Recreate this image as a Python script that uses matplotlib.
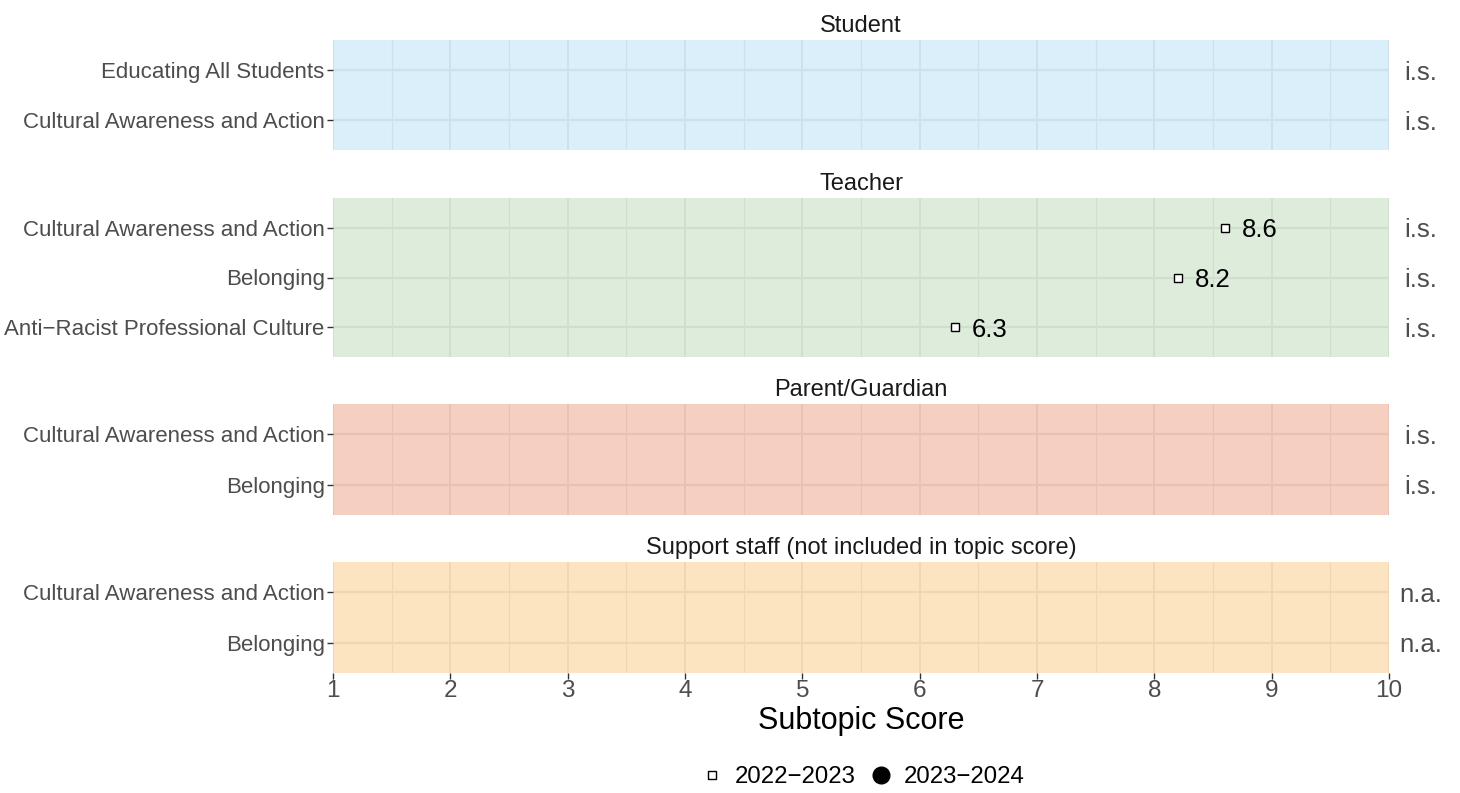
import numpy as np
import matplotlib
matplotlib.use("Agg")
import matplotlib.pyplot as plt
from matplotlib.lines import Line2D

plt.rcParams['font.family'] = ['Liberation Sans', 'DejaVu Sans']

# ---- data ----
panels = ["Student", "Teacher", "Parent/Guardian", "Support staff (not included in topic score)"]
subtopics = [
    ["Educating All Students", "Cultural Awareness and Action"],
    ["Cultural Awareness and Action", "Belonging", "Anti\u2212Racist Professional Culture"],
    ["Cultural Awareness and Action", "Belonging"],
    ["Cultural Awareness and Action", "Belonging"],
]
scores_2022 = [
    [np.nan, np.nan],
    [8.6, 8.2, 6.3],
    [np.nan, np.nan],
    [np.nan, np.nan],
]
scores_2023 = [
    [np.nan, np.nan],
    [np.nan, np.nan, np.nan],
    [np.nan, np.nan],
    [np.nan, np.nan],
]
right_labels = [
    ["i.s.", "i.s."],
    ["i.s.", "i.s.", "i.s."],
    ["i.s.", "i.s."],
    ["n.a.", "n.a."],
]
legend_labels = ["2022\u22122023", "2023\u22122024"]
x_ticks = list(range(1, 11))

# panel styling
panel_colors = ["#87CAEE", "#94C38E", "#E1622D", "#F9A834"]
panel_alpha = 0.3

W, H = 1460, 793
fig = plt.figure(figsize=(W / 100, H / 100), dpi=100)

left_px, right_px = 333, 1389
panel_px = [(40, 150), (198, 357), (404, 515), (562, 673)]

txt_grey = "#4D4D4D"
for i, (top, bot) in enumerate(panel_px):
    ax = fig.add_axes([left_px / W, 1 - bot / H, (right_px - left_px) / W, (bot - top) / H])
    n = len(subtopics[i])
    ypos = np.arange(n, 0, -1)  # top row first
    ax.set_xlim(1, 10)
    ax.set_ylim(0.4, n + 0.6)
    # gridlines (grey92) under translucent fill
    for xv in np.arange(1, 10.01, 1):
        ax.axvline(xv, color="#EBEBEB", lw=1.3, zorder=0)
    for xv in np.arange(1.5, 10, 1):
        ax.axvline(xv, color="#EBEBEB", lw=0.8, zorder=0)
    for yv in ypos:
        ax.axhline(yv, color="#EBEBEB", lw=1.6, zorder=0)
    ax.axvspan(1, 10, color=panel_colors[i], alpha=panel_alpha, lw=0, zorder=1)

    for sp in ax.spines.values():
        sp.set_visible(False)
    ax.set_yticks(ypos)
    ax.set_yticklabels(subtopics[i], fontsize=16, color=txt_grey)
    ax.tick_params(axis="y", length=4, width=1, color="#333333", pad=2)
    if i == len(panel_px) - 1:
        ax.set_xticks(x_ticks)
        ax.set_xticklabels([str(t) for t in x_ticks], fontsize=17.5, color=txt_grey)
        ax.tick_params(axis="x", length=4, width=1, color="#333333", pad=1)
        ax.set_xlabel("Subtopic Score", fontsize=22, labelpad=3)
    else:
        ax.set_xticks([])
    ax.set_title(panels[i], fontsize=17, pad=6, color="#1A1A1A")

    s22 = np.array(scores_2022[i], dtype=float)
    s23 = np.array(scores_2023[i], dtype=float)
    ax.plot(s22, ypos, ls="none", marker="s", ms=5.5, mfc="white", mec="black", mew=1.0, zorder=4)
    ax.plot(s23, ypos, ls="none", marker="o", ms=10, mfc="black", mec="black", zorder=4)
    for v, y in zip(s22, ypos):
        if not np.isnan(v):
            ax.annotate(f"{v:.1f}", (v, y), xytext=(12, 0), textcoords="offset points",
                        ha="left", va="center_baseline", fontsize=18.5, color="black", zorder=5)
    for lab, y in zip(right_labels[i], ypos):
        ax.text(1 + (1421 - right_px) / (right_px - left_px), y, lab,
                transform=ax.get_yaxis_transform(), ha="center", va="center_baseline",
                fontsize=18.5, color=txt_grey, clip_on=False)

handles = [
    Line2D([], [], ls="none", marker="s", ms=5.5, mfc="white", mec="black", mew=1.0),
    Line2D([], [], ls="none", marker="o", ms=12, mfc="black", mec="black"),
]
fig.legend(handles, legend_labels, loc="center", bbox_to_anchor=(861 / W, 1 - 777 / H),
           ncol=2, frameon=False, fontsize=17.3, handletextpad=0.35, columnspacing=0.45,
           handlelength=1.2)

fig.savefig("out.png", dpi=100)
